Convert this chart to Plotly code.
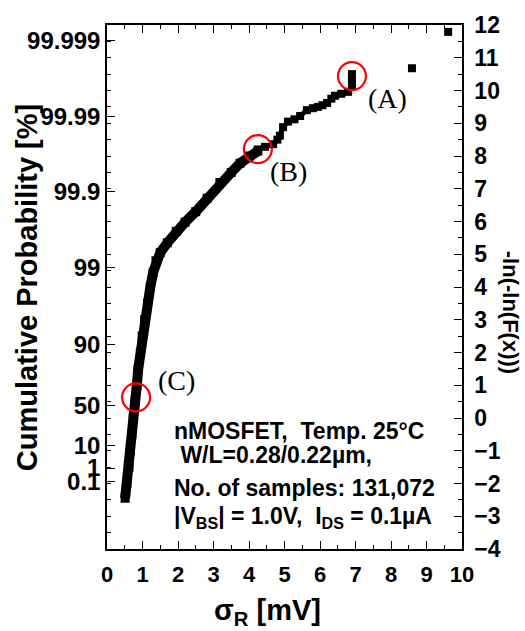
import plotly.graph_objects as go

# Gumbel plot of sigma_R: x in mV, y = -ln(-ln(F(x)))
dense_x = [0.51, 0.56, 0.62, 0.66, 0.70, 0.74, 0.79, 0.84, 0.88, 0.94, 0.99, 1.06,
           1.14, 1.22, 1.30, 1.38, 1.50, 1.70, 1.95, 2.20, 2.50, 2.82, 3.18, 3.50,
           3.75, 4.00, 4.25]
dense_y = [-2.45, -2.0, -1.5, -1.0, -0.5, 0.0, 0.5, 1.0, 1.5, 2.0, 2.5, 3.0,
           3.5, 4.0, 4.45, 4.8, 5.05, 5.35, 5.7, 5.98, 6.3, 6.71, 7.19, 7.5,
           7.78, 8.0, 8.15]

tail_x = [4.25, 4.45, 4.68, 4.80, 4.87, 4.96, 5.10, 5.28, 5.44, 5.63, 5.80, 5.94,
          6.07, 6.20, 6.32, 6.42, 6.60, 6.79, 6.90, 6.90, 6.90]
tail_y = [8.20, 8.28, 8.36, 8.50, 8.62, 8.88, 9.05, 9.12, 9.22, 9.40, 9.46, 9.50,
          9.55, 9.62, 9.75, 9.84, 9.90, 9.96, 10.15, 10.35, 10.50]

outlier_x = [8.59, 9.61]
outlier_y = [10.68, 11.79]

# Cumulative probability labels (percent) and their Gumbel positions
prob_labels = ["0.1", "1", "10", "50", "90", "99", "99.9", "99.99", "99.999"]
prob_pos = [-1.933, -1.527, -0.834, 0.367, 2.250, 4.600, 6.907, 9.210, 11.513]

# Highlighted samples
mark_names = ["(A)", "(B)", "(C)"]
mark_x = [6.90, 4.25, 0.82]
mark_y = [10.44, 8.21, 0.63]
mark_label_x = [7.89, 5.10, 1.97]
mark_label_y = [9.76, 7.52, 1.13]

info_lines = [
    "nMOSFET,  Temp. 25°C",
    " W/L=0.28/0.22µm,",
    "No. of samples: 131,072",
    "|V<sub>BS</sub>| = 1.0V,  I<sub>DS</sub> = 0.1µA",
]
info_x = [0.183, 0.183, 0.183, 0.183]
info_y = [0.226, 0.179, 0.117, 0.060]

FONT = "Liberation Sans"
BOLD = dict(family=FONT, color="black", weight="bold")

fig = go.Figure()

fig.add_trace(go.Scatter(
    x=dense_x, y=dense_y, mode="lines+markers",
    line=dict(color="black", width=10),
    marker=dict(symbol="square", size=9, color="black"),
    showlegend=False, hoverinfo="skip"))

fig.add_trace(go.Scatter(
    x=tail_x, y=tail_y, mode="lines+markers",
    line=dict(color="black", width=5),
    marker=dict(symbol="square", size=8, color="black"),
    showlegend=False, hoverinfo="skip"))

fig.add_trace(go.Scatter(
    x=outlier_x, y=outlier_y, mode="markers",
    marker=dict(symbol="square", size=8, color="black"),
    showlegend=False, hoverinfo="skip"))

# invisible trace to activate the right-hand axis
fig.add_trace(go.Scatter(x=[None], y=[None], yaxis="y2", showlegend=False))

for cx, cy in zip(mark_x, mark_y):
    fig.add_shape(type="circle", xref="x", yref="y",
                  xsizemode="pixel", ysizemode="pixel",
                  xanchor=cx, yanchor=cy, x0=-14, x1=14, y0=-14, y1=14,
                  line=dict(color="red", width=2.2))

for name, lx, ly in zip(mark_names, mark_label_x, mark_label_y):
    fig.add_annotation(x=lx, y=ly, xref="x", yref="y", text=name, showarrow=False,
                       xanchor="center", yanchor="middle",
                       font=dict(family="Liberation Serif", size=28, color="black"))

for line, ix, iy in zip(info_lines, info_x, info_y):
    fig.add_annotation(x=ix, y=iy, xref="paper", yref="paper", text=line,
                       showarrow=False, xanchor="left", yanchor="middle",
                       font=dict(size=23, **BOLD))

fig.add_annotation(x=0.451, y=-0.121, xref="paper", yref="paper",
                   text="σ<sub>R</sub> [mV]", showarrow=False,
                   xanchor="center", yanchor="middle",
                   font=dict(size=29, **BOLD))
fig.add_annotation(x=-0.225, y=0.498, xref="paper", yref="paper",
                   text="Cumulative Probability [%]", textangle=-90, showarrow=False,
                   xanchor="center", yanchor="middle",
                   font=dict(size=29, **BOLD))
fig.add_annotation(x=1.135, y=0.451, xref="paper", yref="paper",
                   text="-ln(-ln(F(x)))", textangle=90, showarrow=False,
                   xanchor="center", yanchor="middle",
                   font=dict(size=22, **BOLD))

fig.update_layout(
    width=525, height=631,
    margin=dict(l=107, r=63, t=17, b=82),
    plot_bgcolor="white", paper_bgcolor="white",
    font=dict(family=FONT, color="black"),
    xaxis=dict(range=[0, 10], tickmode="linear", tick0=0, dtick=1,
               ticks="inside", ticklen=8, tickwidth=1.2, tickcolor="black",
               minor=dict(tickmode="linear", tick0=0, dtick=0.5, ticks="inside",
                          ticklen=4, tickwidth=1.2, tickcolor="black"),
               showline=True, linecolor="black", linewidth=1.5, mirror="ticks",
               showgrid=False, zeroline=False, ticklabelstandoff=5,
               tickfont=dict(size=22, **BOLD)),
    yaxis=dict(range=[-4, 12], tickmode="array", tickvals=prob_pos, ticktext=prob_labels,
               ticks="inside", ticklen=8, tickwidth=1.2, tickcolor="black",
               minor=dict(tickmode="linear", tick0=0, dtick=0.5, ticks="inside",
                          ticklen=4, tickwidth=1.2, tickcolor="black"),
               showline=True, linecolor="black", linewidth=1.5,
               showgrid=False, zeroline=False, ticklabelstandoff=0,
               tickfont=dict(size=24, **BOLD)),
    yaxis2=dict(range=[-4, 12], overlaying="y", side="right",
                tickmode="linear", tick0=-4, dtick=1,
                ticks="inside", ticklen=8, tickwidth=1.2, tickcolor="black",
                minor=dict(tickmode="linear", tick0=0, dtick=0.5, ticks="inside",
                           ticklen=4, tickwidth=1.2, tickcolor="black"),
                showline=True, linecolor="black", linewidth=1.5,
                showgrid=False, zeroline=False, ticklabelstandoff=6,
                tickformat="d", tickfont=dict(size=23, **BOLD)),
)

fig.write_html("out.html")
